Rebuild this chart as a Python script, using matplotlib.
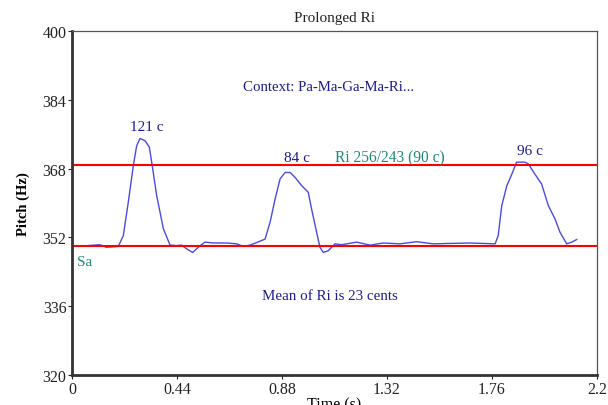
"""
Prolonged Ri: pitch contour with Sa and Ri reference lines.
"""
import numpy as np
import matplotlib
matplotlib.use("Agg")
import matplotlib.pyplot as plt

# pitch contour (time in s, pitch in Hz)
time_s = [0.068, 0.117, 0.145, 0.194, 0.215, 0.236, 0.257, 0.271, 0.285, 0.306,
          0.324, 0.334, 0.355, 0.383, 0.411, 0.439, 0.460, 0.481, 0.506, 0.529,
          0.557, 0.592, 0.627, 0.648, 0.690, 0.718, 0.746, 0.774, 0.809, 0.830,
          0.851, 0.872, 0.893, 0.914, 0.934, 0.963, 0.990, 1.004, 1.022, 1.039,
          1.053, 1.074, 1.102, 1.130, 1.193, 1.249, 1.304, 1.374, 1.444, 1.514,
          1.584, 1.668, 1.773, 1.786, 1.801, 1.822, 1.843, 1.863, 1.898, 1.912,
          1.940, 1.968, 1.996, 2.024, 2.045, 2.073, 2.094, 2.115]
pitch_hz = [350.1, 350.3, 349.7, 349.9, 352.4, 360.2, 368.7, 373.3, 375.0, 374.5,
            373.0, 369.5, 361.7, 354.0, 350.2, 350.1, 350.2, 349.3, 348.5, 349.7,
            350.9, 350.7, 350.7, 350.7, 350.5, 349.9, 350.2, 350.8, 351.6, 355.5,
            360.9, 365.6, 367.1, 367.1, 366.0, 364.0, 362.5, 358.6, 354.0, 349.7,
            348.5, 348.9, 350.5, 350.3, 350.9, 350.2, 350.7, 350.5, 351.0, 350.5,
            350.6, 350.7, 350.5, 352.4, 359.4, 364.0, 366.7, 369.5, 369.5, 369.1,
            366.7, 364.4, 359.4, 356.3, 353.2, 350.5, 350.9, 351.5]

sa_hz = 350.0
ri_hz = sa_hz * 256 / 243

x_ticks = [0, 0.44, 0.88, 1.32, 1.76, 2.2]
x_tick_labels = ["0", "0.44", "0.88", "1.32", "1.76", "2.2"]
y_ticks = [320, 336, 352, 368, 384, 400]

peak_labels = ["121 c", "84 c", "96 c"]
peak_pos = [(0.314, 377.7), (0.943, 370.5), (1.919, 372.3)]


def main():
    plt.rcParams.update({
        "font.family": "Liberation Serif",
        "font.size": 10,
    })

    fig = plt.figure(figsize=(6.08, 4.06), dpi=100)
    ax = fig.add_axes([0.1184, 0.0739, 0.8635, 0.8473])

    ax.plot(time_s, pitch_hz, color="#4a4ae0", linewidth=1.0)
    ax.axhline(ri_hz, color="#ff0000", linewidth=1.5)
    ax.axhline(sa_hz, color="#ff0000", linewidth=1.5)

    ax.set_xlim(0, 2.2)
    ax.set_ylim(320, 400)
    ax.set_xticks(x_ticks)
    ax.set_xticklabels(x_tick_labels)
    ax.set_yticks(y_ticks)
    ax.tick_params(direction="out", length=3, width=0.8, colors="#222222",
                   labelsize=11.5, pad=1)

    for side in ("left", "bottom"):
        ax.spines[side].set_linewidth(2.0)
        ax.spines[side].set_color("#333333")
    for side in ("top", "right"):
        ax.spines[side].set_linewidth(0.9)
        ax.spines[side].set_color("#555555")

    ax.set_title("Prolonged Ri", fontsize=11, color="#222222", pad=7)
    ax.set_ylabel("Pitch (Hz)", fontsize=10.5, fontweight="bold", labelpad=9)
    ax.set_xlabel("Time (s)", fontsize=11.5, labelpad=0)

    navy = "#1c1c8c"
    teal = "#1a8a7a"
    ax.text(1.077, 387.0, "Context: Pa-Ma-Ga-Ma-Ri...", color=navy,
            ha="center", va="center", fontsize=10.7)
    for lab, (tx, ty) in zip(peak_labels, peak_pos):
        ax.text(tx, ty, lab, color=navy, ha="center", va="center", fontsize=11)
    ax.text(1.333, 370.7, "Ri 256/243 (90 c)", color=teal,
            ha="center", va="center", fontsize=11.2)
    ax.text(0.02, 346.5, "Sa", color=teal, ha="left", va="center", fontsize=11)
    ax.text(1.079, 338.4, "Mean of Ri is 23 cents", color=navy,
            ha="center", va="center", fontsize=10.8)

    fig.savefig("out.png", dpi=100)
    plt.close(fig)


if __name__ == "__main__":
    main()
